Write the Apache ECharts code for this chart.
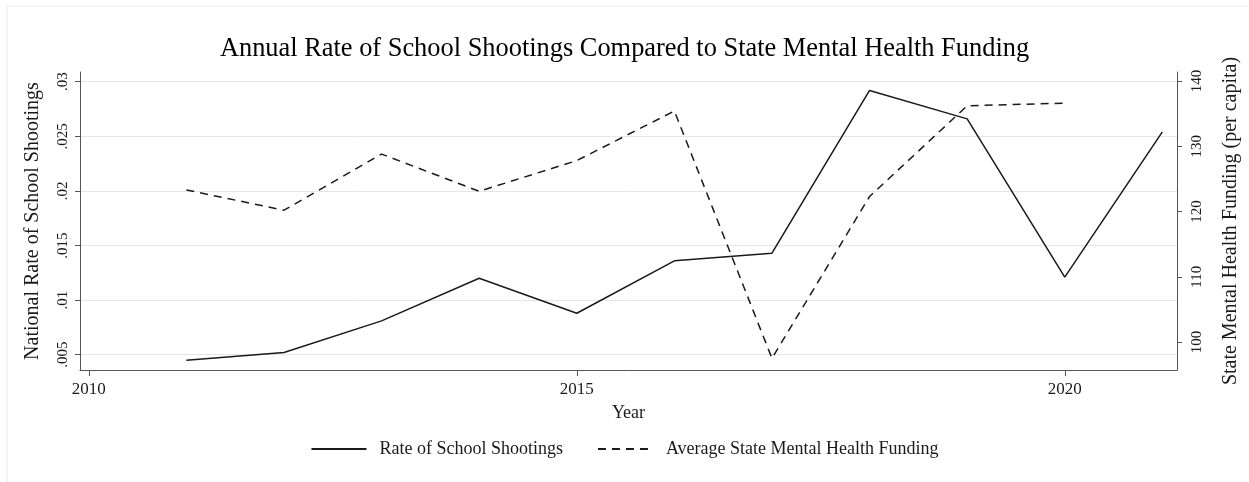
<!DOCTYPE html>
<html>
<head>
<meta charset="utf-8">
<script src="https://cdn.jsdelivr.net/npm/echarts@6/dist/echarts.min.js"></script>
<style>
  html, body { margin: 0; padding: 0; background: #fff; }
  #chart { width: 1249px; height: 482px; }
</style>
</head>
<body>
<div id="chart"></div>
<script>
// data
const years = [2011, 2012, 2013, 2014, 2015, 2016, 2017, 2018, 2019, 2020, 2021];
const shootingRate = [0.0045, 0.0052, 0.0081, 0.0120, 0.0088, 0.0136, 0.0143, 0.0292, 0.0266, 0.0121, 0.0254];
const fundingYears = [2011, 2012, 2013, 2014, 2015, 2016, 2017, 2018, 2019, 2020];
const mentalFunding = [123.3, 120.2, 128.8, 123.1, 127.8, 135.4, 97.5, 122.3, 136.2, 136.6];
const yearTicks = [2010, 2015, 2020];
const rateTicks = [0.005, 0.01, 0.015, 0.02, 0.025, 0.03];
const fundTicks = [100, 110, 120, 130, 140];

const font = "'Liberation Serif', 'DejaVu Serif', serif";
const ink = '#1a1a1a';
const axisCol = '#555';

const myChart = echarts.init(document.getElementById('chart'));

const option = {
  animation: false,
  backgroundColor: '#fff',
  textStyle: { fontFamily: font, color: ink },
  graphic: [{
    type: 'rect',
    shape: { x: 7, y: 6, width: 1260, height: 490 },
    style: { fill: 'none', stroke: '#ececec', lineWidth: 1 },
    silent: true
  }],
  title: {
    text: 'Annual Rate of School Shootings Compared to State Mental Health Funding',
    left: 'center',
    top: 31,
    textStyle: { fontFamily: font, fontSize: 26.4, fontWeight: 'normal', color: '#000' }
  },
  legend: {
    bottom: 19,
    left: 'center',
    itemWidth: 55,
    itemHeight: 10,
    itemGap: 34,
    itemStyle: { opacity: 0 },
    textStyle: { fontFamily: font, fontSize: 18, color: ink, padding: [0, 0, 0, 8] },
    data: ['Rate of School Shootings', 'Average State Mental Health Funding']
  },
  grid: { left: 80, right: 70, top: 72, bottom: 112 },
  xAxis: {
    type: 'value',
    min: 2009.91,
    max: 2021.15,
    name: 'Year',
    nameLocation: 'middle',
    nameGap: 34,
    nameTextStyle: { fontFamily: font, fontSize: 18, color: ink },
    axisLine: { onZero: false, lineStyle: { color: axisCol, width: 1 } },
    axisTick: { customValues: yearTicks, length: 6, lineStyle: { color: axisCol } },
    axisLabel: {
      customValues: yearTicks,
      fontFamily: font,
      fontSize: 17,
      color: ink,
      margin: 11,
      formatter: (v) => String(v)
    },
    splitLine: { show: false }
  },
  yAxis: [{
    type: 'value',
    position: 'left',
    min: 0.0036,
    max: 0.03089,
    name: 'National Rate of School Shootings',
    nameLocation: 'middle',
    nameRotate: 90,
    nameGap: 37,
    nameTextStyle: { fontFamily: font, fontSize: 20, color: ink },
    axisLine: { show: true, lineStyle: { color: axisCol, width: 1 } },
    axisTick: { show: true, customValues: rateTicks, length: 5, lineStyle: { color: axisCol } },
    axisLabel: {
      customValues: rateTicks,
      rotate: 90,
      fontFamily: font,
      fontSize: 15,
      color: ink,
      margin: 9,
      formatter: (v) => String(+v.toFixed(3)).replace(/^0/, '')
    },
    splitLine: { show: true, lineStyle: { color: '#e6e6e6', width: 1 } }
  }, {
    type: 'value',
    position: 'right',
    min: 95.71,
    max: 141.38,
    name: 'State Mental Health Funding (per capita)',
    nameLocation: 'middle',
    nameRotate: 90,
    nameGap: 44,
    nameTextStyle: { fontFamily: font, fontSize: 20, color: ink },
    axisLine: { show: true, lineStyle: { color: axisCol, width: 1 } },
    axisTick: { show: true, customValues: fundTicks, length: 5, lineStyle: { color: axisCol } },
    axisLabel: { customValues: fundTicks, rotate: 90, fontFamily: font, fontSize: 15, color: ink, margin: 13 },
    splitLine: { show: false }
  }],
  series: [{
    name: 'Rate of School Shootings',
    type: 'line',
    yAxisIndex: 0,
    symbol: 'none',
    lineStyle: { color: ink, width: 1.5 },
    itemStyle: { color: ink },
    data: years.map((y, i) => [y, shootingRate[i]])
  }, {
    name: 'Average State Mental Health Funding',
    type: 'line',
    yAxisIndex: 1,
    symbol: 'none',
    lineStyle: { color: ink, width: 1.5, type: [8, 6] },
    itemStyle: { color: ink },
    data: fundingYears.map((y, i) => [y, mentalFunding[i]])
  }]
};

myChart.setOption(option);
</script>
</body>
</html>
